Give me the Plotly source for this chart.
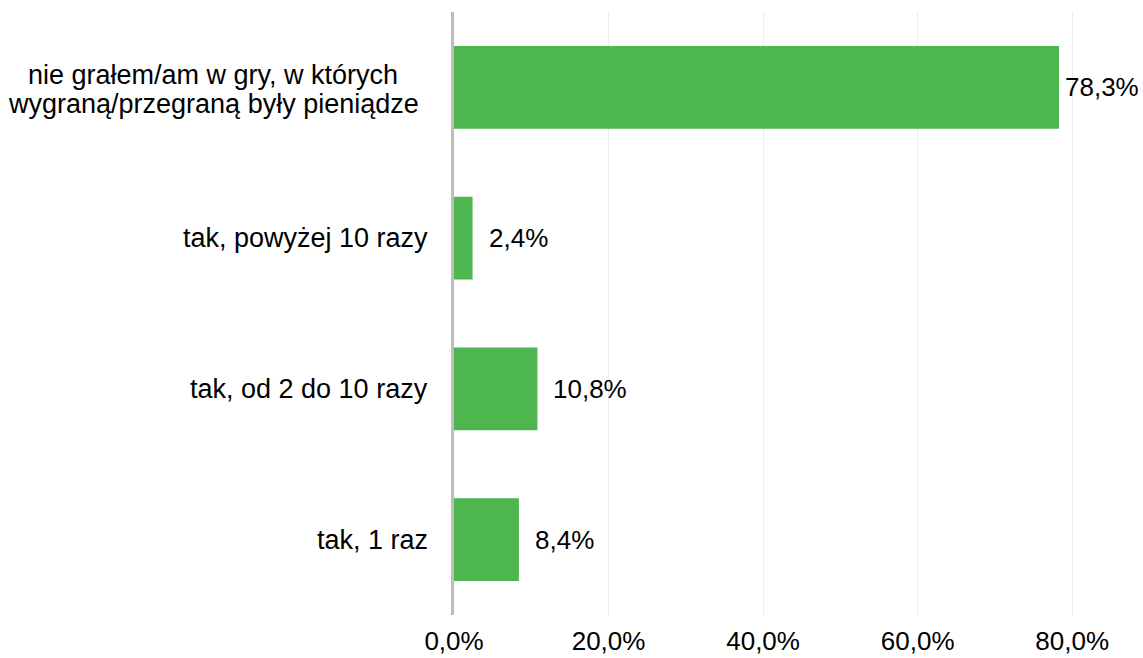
import plotly.graph_objects as go

categories = [
    "nie grałem/am w gry, w których<br>wygraną/przegraną były pieniądze",
    "tak, powyżej 10 razy",
    "tak, od 2 do 10 razy",
    "tak, 1 raz",
]
values = [78.3, 2.4, 10.8, 8.4]
value_labels = ["78,3%", "2,4%", "10,8%", "8,4%"]
label_shifts = [4, 14, 14, 14]
tick_vals = [0, 20, 40, 60, 80]
tick_text = ["0,0%", "20,0%", "40,0%", "60,0%", "80,0%"]

FONT = "Liberation Sans, Arial, sans-serif"
FS = 26
CAT_FS = 27
LINE_H = 29

fig = go.Figure()
fig.add_trace(go.Bar(
    x=values,
    y=categories,
    orientation="h",
    width=0.55,
    marker=dict(color="rgb(78,182,78)", line=dict(width=0)),
    hoverinfo="skip",
))

# value labels
for v, c, t, s in zip(values, categories, value_labels, label_shifts):
    fig.add_annotation(
        x=v, y=c, text=t, showarrow=False, xanchor="left", yanchor="middle",
        xshift=s, font=dict(size=FS, color="black", family=FONT),
    )

# category labels (multi-line ones centered, tighter line spacing)
for c in categories:
    lines = c.split("<br>")
    n = len(lines)
    for i, line in enumerate(lines):
        if n == 1:
            anchor, xs = "right", -24
        else:
            anchor, xs = "center", -241
        fig.add_annotation(
            xref="paper", x=0, y=c, text=line, showarrow=False,
            xanchor=anchor, yanchor="middle", xshift=xs,
            yshift=((n - 1) / 2 - i) * LINE_H - (2 if n > 1 else 0),
            font=dict(size=CAT_FS, color="black", family=FONT),
        )

fig.update_layout(
    width=1143, height=658,
    margin=dict(l=454, r=9, t=12, b=43),
    paper_bgcolor="white", plot_bgcolor="white",
    showlegend=False,
    font=dict(family=FONT, size=FS, color="black"),
)
fig.update_xaxes(
    range=[0, 88], automargin=False,
    tickvals=tick_vals, ticktext=tick_text,
    showgrid=True, gridcolor="#ececec", gridwidth=1,
    zeroline=False, showline=False, ticks="",
    ticklabelstandoff=8,
    tickfont=dict(size=FS, color="black", family=FONT),
)
fig.update_yaxes(
    categoryorder="array", categoryarray=categories[::-1],
    range=[-0.5, 3.5], automargin=False,
    showgrid=False, zeroline=False, showticklabels=False,
    showline=True, linecolor="#bdbdbd", linewidth=3,
    ticks="",
)

fig.write_html(
    "out.html",
    config={"displayModeBar": False},
    post_script="document.body.style.margin='0';document.body.style.overflow='hidden';",
)
